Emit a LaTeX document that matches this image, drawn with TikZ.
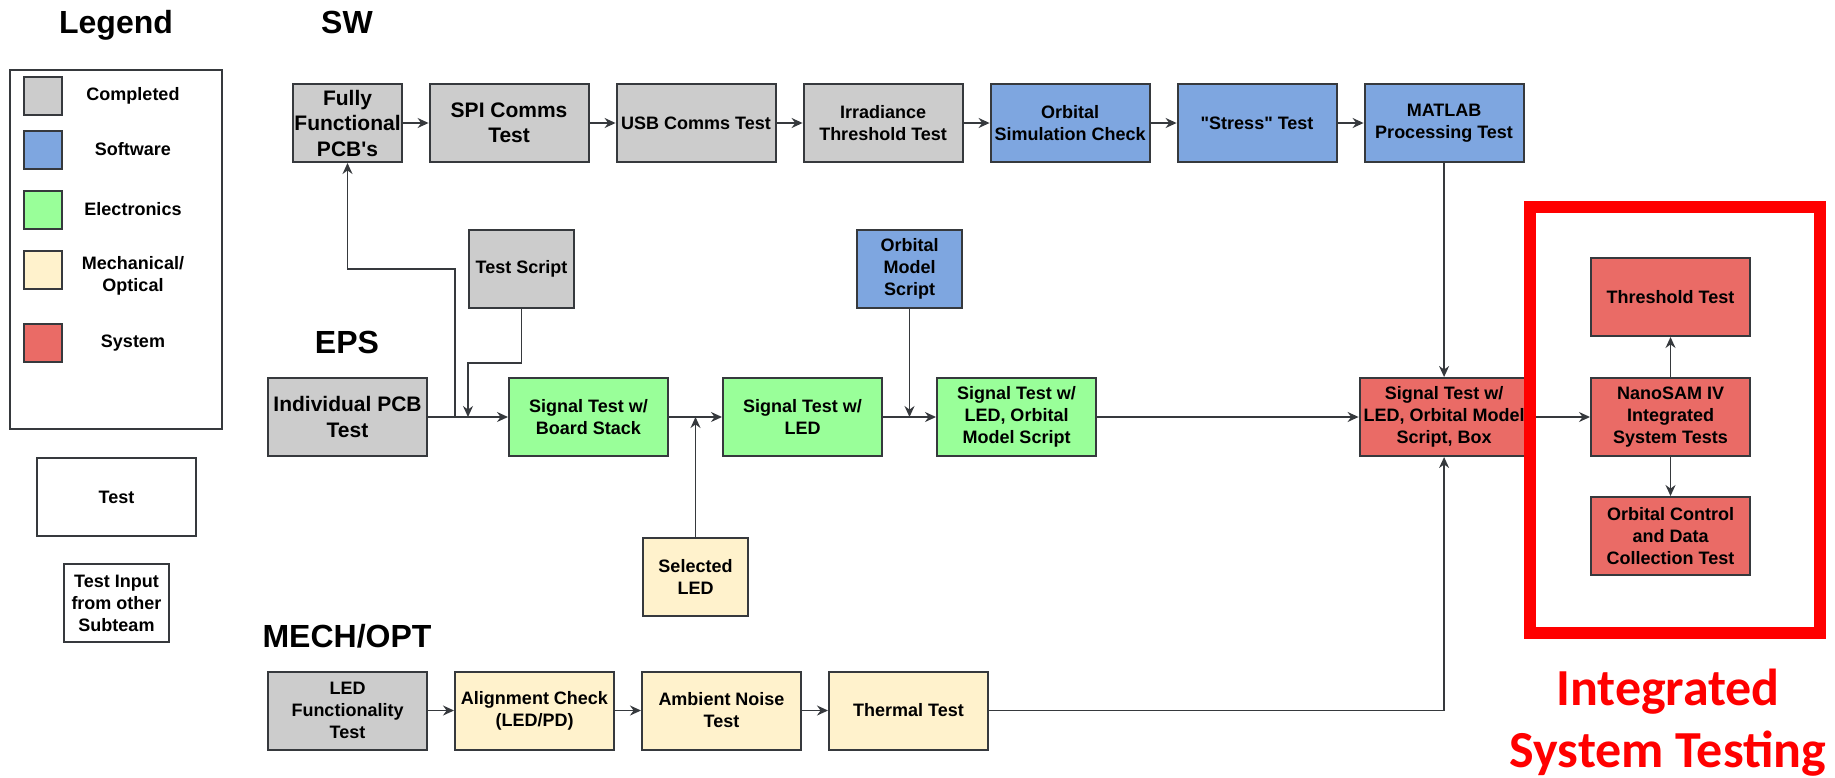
\documentclass[tikz,border=0pt]{standalone}
\usepackage{fontspec}
\setmainfont{Liberation Sans}[Ligatures=TeXOff]
\newfontfamily\calfont{Carlito}
\usepackage{tikz}
\usetikzlibrary{arrows.meta,positioning,calc}

\definecolor{donegray}{RGB}{204,204,204}
\definecolor{swblue}{RGB}{126,166,224}
\definecolor{elecgreen}{RGB}{153,255,153}
\definecolor{mechcream}{RGB}{255,242,204}
\definecolor{sysred}{RGB}{234,107,102}
\definecolor{boxline}{RGB}{54,57,61}
\definecolor{framered}{RGB}{255,0,0}

\newcommand{\boxfont}{\fontsize{18}{22}\selectfont\bfseries}
\newcommand{\bigboxfont}{\fontsize{21}{25.5}\selectfont\bfseries}
\newcommand{\titlefont}{\fontsize{32}{38}\selectfont\bfseries}

\begin{document}
\begin{tikzpicture}[x=1pt,y=1pt,->,>={Stealth[length=11pt,width=10pt]},line width=1.5pt,
  node distance=26pt,
  test node/.style={rectangle,draw=boxline,line width=2pt,minimum width=159pt,minimum height=78pt,inner sep=1pt,align=center,font=\boxfont},
  input node/.style={test node,minimum width=105pt},
  title node/.style={anchor=base,font=\titlefont},
  key node/.style={rectangle,draw=boxline,line width=2pt,minimum size=38pt,inner sep=0pt},
  key label/.style={align=center,font=\boxfont}]

  \useasboundingbox (0,0) rectangle (1835,-777);

  % legend
  \node[title node] (legtitle) at (116,-33) {Legend};
  \node[draw=boxline,line width=2pt,minimum width=212pt,minimum height=359pt] (legend) at (116,-249.5) {};
  \node[key node,fill=donegray] (k1) at (43,-96) {};
  \node[key node,fill=swblue] (k2) at (43,-149.5) {};
  \node[key node,fill=elecgreen] (k3) at (43,-209.5) {};
  \node[key node,fill=mechcream] (k4) at (43,-269.5) {};
  \node[key node,fill=sysred] (k5) at (43,-343) {};
  \node[key label] (l1) at (133,-96) {Completed};
  \node[key label] (l2) at (133,-149.5) {Software};
  \node[key label] (l3) at (133,-209.5) {Electronics};
  \node[key label] (l4) at (133,-276) {Mechanical/\\Optical};
  \node[key label] (l5) at (133,-343) {System};
  \node[test node] (keytest) at (116.5,-497) {Test};
  \node[input node] (keyinput) at (116.5,-603) {Test Input\\from other\\Subteam};

  % SW
  \node[title node] (swtitle) at (347,-33) {SW};
  \node[input node,fill=donegray,font=\bigboxfont] (sw1) at (347.5,-123) {Fully\\Functional\\PCB's};
  \node[test node,fill=donegray,font=\bigboxfont,right=of sw1] (sw2) {SPI Comms\\Test};
  \node[test node,fill=donegray,right=of sw2] (sw3) {USB Comms Test};
  \node[test node,fill=donegray,right=of sw3] (sw4) {Irradiance\\Threshold Test};
  \node[test node,fill=swblue,right=of sw4] (sw5) {Orbital\\Simulation Check};
  \node[test node,fill=swblue,right=of sw5] (sw6) {"Stress" Test};
  \node[test node,fill=swblue,right=of sw6] (sw7) {MATLAB\\Processing Test};

  % EPS
  \node[title node] (epstitle) at (347,-353) {EPS};
  \node[test node,fill=donegray,font=\bigboxfont] (eps1) at (347.5,-417) {Individual PCB\\Test};
  \node[test node,fill=elecgreen,right=80pt of eps1] (eps2) {Signal Test w/\\Board Stack};
  \node[test node,fill=elecgreen,right=53pt of eps2] (eps3) {Signal Test w/\\LED};
  \node[test node,fill=elecgreen,right=53pt of eps3] (eps4) {Signal Test w/\\LED, Orbital\\Model Script};
  \node[test node,fill=sysred,minimum width=169pt] (eps5) at (sw7 |- eps4) {Signal Test w/\\LED, Orbital Model\\Script, Box};

  \coordinate (j1) at ($(eps1.east)+(27,0)$);
  \coordinate (j2) at ($(eps1.east)+(40,0)$);
  \coordinate (j3) at ($(eps2.east)!0.5!(eps3.west)$);
  \coordinate (j4) at ($(eps3.east)!0.5!(eps4.west)$);

  \node[input node,fill=donegray] (in1) at (521.5,-269) {Test Script};
  \node[input node,fill=swblue,above=108pt of j4] (in2) {Orbital\\Model\\Script};
  \node[input node,fill=mechcream,below=120pt of j3] (in3) {Selected\\LED};

  % MECH/OPT
  \node[title node] (mechtitle) at (347,-647) {MECH/OPT};
  \node[test node,fill=donegray] (mech1) at (347.5,-710.5) {LED\\Functionality\\Test};
  \node[test node,fill=mechcream,right=of mech1] (mech2) {Alignment Check\\(LED/PD)};
  \node[test node,fill=mechcream,right=of mech2] (mech3) {Ambient Noise\\Test};
  \node[test node,fill=mechcream,right=of mech3] (mech4) {Thermal Test};

  % system
  \node[test node,fill=sysred] (sys2) at (1670.5,-417) {NanoSAM IV\\Integrated\\System Tests};
  \node[test node,fill=sysred,above=40pt of sys2] (sys1) {Threshold Test};
  \node[test node,fill=sysred,below=39pt of sys2] (sys3) {Orbital Control\\and Data\\Collection Test};

  \path[boxline]
    (sw1) edge (sw2)
    (sw2) edge (sw3)
    (sw3) edge (sw4)
    (sw4) edge (sw5)
    (sw5) edge (sw6)
    (sw6) edge (sw7)
    (sw7) edge (eps5)
    (eps1) edge (eps2)
    (eps2) edge (eps3)
    (eps3) edge (eps4)
    (eps4) edge (eps5)
    (in3) edge (j3)
    (in2) edge (j4)
    (mech1) edge (mech2)
    (mech2) edge (mech3)
    (mech3) edge (mech4)
    (eps5) edge (sys2)
    (sys2) edge (sys1)
    (sys2) edge (sys3);

  \draw[boxline] (j1) |- (sw1.south |- in1) -- (sw1.south);
  \draw[boxline] (in1.south) -- ++(0,-54) -| (j2);
  \draw[boxline] (mech4.east) -| (eps5.south);

  % integrated system testing
  \node[draw=framered,line width=12pt,minimum width=290pt,minimum height=426pt,inner sep=0pt] (frame) at (1675,-420) {};
  \node[anchor=base,text=framered,font=\calfont\bfseries\fontsize{52}{62}\selectfont] (ist1) at (1668,-705) {Integrated};
  \node[anchor=base,text=framered,font=\calfont\bfseries\fontsize{52}{62}\selectfont] (ist2) at (1668,-767) {System Testing};

\end{tikzpicture}
\end{document}
